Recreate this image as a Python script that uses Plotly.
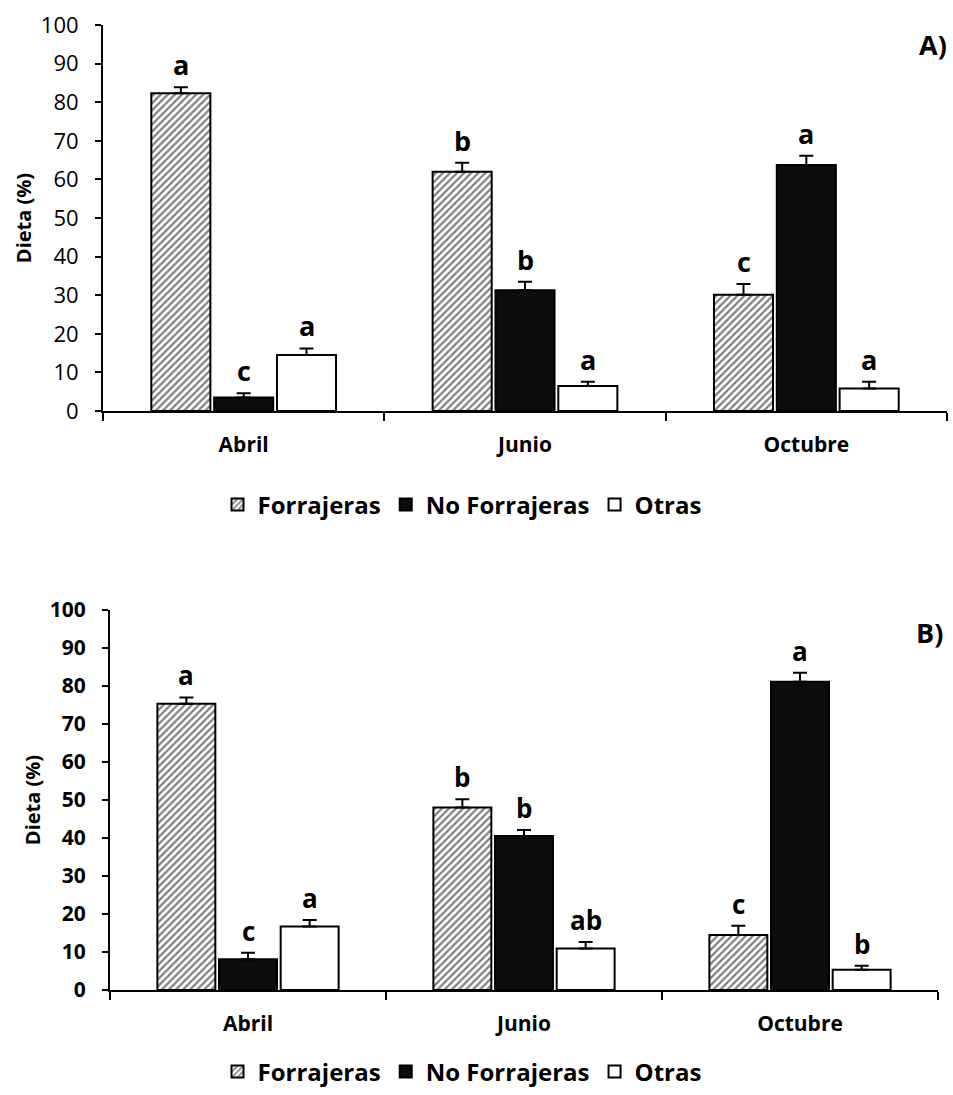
import plotly.graph_objects as go

meses = ["Abril", "Junio", "Octubre"]
series = ["Forrajeras", "No Forrajeras", "Otras"]

# Panel A) — dieta (%) por mes
a_forrajeras = [82.3, 62.0, 30.1]
a_no_forrajeras = [3.5, 31.3, 63.7]
a_otras = [14.5, 6.5, 5.8]
a_err_forrajeras = [1.6, 2.3, 2.8]
a_err_no_forrajeras = [1.1, 2.2, 2.4]
a_err_otras = [1.7, 1.1, 1.8]
a_letras_forrajeras = ["a", "b", "c"]
a_letras_no_forrajeras = ["c", "b", "a"]
a_letras_otras = ["a", "a", "a"]

# Panel B) — dieta (%) por mes
b_forrajeras = [75.3, 48.0, 14.5]
b_no_forrajeras = [8.1, 40.5, 81.1]
b_otras = [16.7, 10.9, 5.3]
b_err_forrajeras = [1.7, 2.2, 2.4]
b_err_no_forrajeras = [1.7, 1.6, 2.4]
b_err_otras = [1.7, 1.7, 1.1]
b_letras_forrajeras = ["a", "b", "c"]
b_letras_no_forrajeras = ["c", "b", "a"]
b_letras_otras = ["a", "ab", "b"]

W, H = 953, 1095
FONT = "Open Sans"
BARGAP = 0.33
BARGROUPGAP = 0.06

estilos = [
    dict(color="white", pattern=dict(shape="/", fgcolor="black", bgcolor="white",
                                     size=5, solidity=0.45)),
    dict(color="#0d0d0d"),
    dict(color="white"),
]

fig = go.Figure()
annotations = []


def panel(valores, errores, letras, xa, ya, legend, letra_size):
    slot = (1 - BARGAP) / len(series)
    for k, (nombre, vals, errs, lets) in enumerate(zip(series, valores, errores, letras)):
        marker = dict(estilos[k])
        marker["line"] = dict(color="black", width=2)
        fig.add_trace(go.Bar(
            x=meses, y=vals, name=nombre, marker=marker,
            xaxis=xa, yaxis=ya, legend=legend,
            error_y=dict(type="data", array=errs, arrayminus=[0] * len(errs),
                         symmetric=False, color="black", thickness=2, width=7),
        ))
        for i, (v, e, t) in enumerate(zip(vals, errs, lets)):
            annotations.append(dict(
                x=i + (k - 1) * slot, y=v + e, xref=xa, yref=ya, text=t,
                showarrow=False, yanchor="bottom", yshift=2,
                font=dict(family=FONT, size=letra_size, color="black", weight="bold"),
            ))


panel([a_forrajeras, a_no_forrajeras, a_otras],
      [a_err_forrajeras, a_err_no_forrajeras, a_err_otras],
      [a_letras_forrajeras, a_letras_no_forrajeras, a_letras_otras],
      "x", "y", "legend", 27)
panel([b_forrajeras, b_no_forrajeras, b_otras],
      [b_err_forrajeras, b_err_no_forrajeras, b_err_otras],
      [b_letras_forrajeras, b_letras_no_forrajeras, b_letras_otras],
      "x2", "y2", "legend2", 26)

annotations.append(dict(x=1 - 4 / W, y=1 - 44 / H, xref="paper", yref="paper", text="A)",
                        showarrow=False, xanchor="right", yanchor="middle",
                        font=dict(family=FONT, size=27, color="black", weight="bold")))
annotations.append(dict(x=1 - 8 / W, y=1 - 632 / H, xref="paper", yref="paper", text="B)",
                        showarrow=False, xanchor="right", yanchor="middle",
                        font=dict(family=FONT, size=27, color="black", weight="bold")))


def xaxis(domain, anchor):
    return dict(domain=domain, anchor=anchor, type="category", tickson="boundaries",
                ticks="outside", ticklen=8, tickwidth=2, tickcolor="black",
                showline=True, linecolor="black", linewidth=2, showgrid=False,
                ticklabelstandoff=14, automargin=False,
                tickfont=dict(family=FONT, size=21, color="black", weight="bold"))


def yaxis(domain, anchor, bold, size):
    return dict(domain=domain, anchor=anchor, range=[0, 100], dtick=10,
                ticks="outside", ticklen=6, tickwidth=2, tickcolor="black",
                showline=True, linecolor="black", linewidth=2, showgrid=False,
                zeroline=False, automargin=False, ticklabelstandoff=12,
                tickfont=dict(family=FONT, size=size, color="black",
                              weight="bold" if bold else "normal"),
                title=dict(text="Dieta (%)", standoff=4,
                           font=dict(family=FONT, size=20, color="black", weight="bold")))


legend_style = dict(orientation="h", xanchor="center", yanchor="middle",
                    font=dict(family=FONT, size=24, color="black", weight="bold"),
                    bgcolor="rgba(0,0,0,0)", itemclick=False)

fig.update_layout(
    width=W, height=H,
    margin=dict(l=0, r=0, t=0, b=0),
    paper_bgcolor="white", plot_bgcolor="white",
    barmode="group", bargap=BARGAP, bargroupgap=BARGROUPGAP,
    xaxis=xaxis([103 / W, 947 / W], "y"),
    yaxis=yaxis([1 - 411 / H, 1 - 25 / H], "x", False, 22),
    xaxis2=xaxis([110 / W, 938 / W], "y2"),
    yaxis2=yaxis([1 - 990 / H, 1 - 610 / H], "x2", True, 21),
    legend=dict(legend_style, x=462 / W, y=1 - 505 / H),
    legend2=dict(legend_style, x=462 / W, y=1 - 1072 / H),
    annotations=annotations,
    showlegend=True,
)

fig.write_html("out.html")
